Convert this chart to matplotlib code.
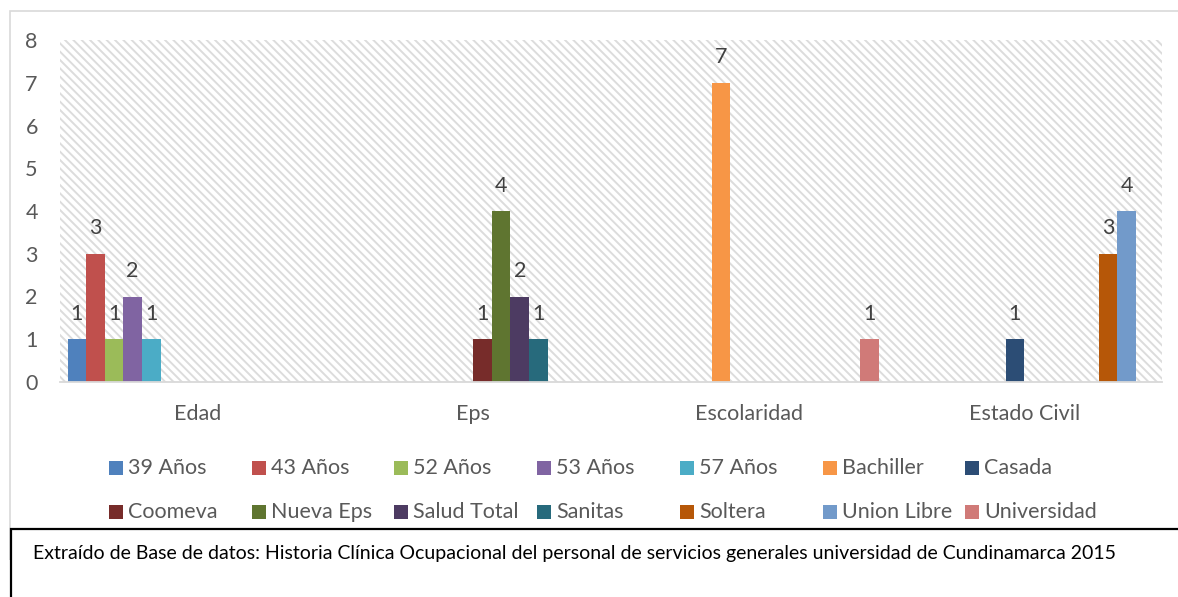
import matplotlib
matplotlib.use("Agg")
import matplotlib.pyplot as plt
from matplotlib.patches import Rectangle
import numpy as np

categories = ["Edad", "Eps", "Escolaridad", "Estado Civil"]
series_names = ["39 Años", "43 Años", "52 Años", "53 Años", "57 Años", "Bachiller", "Casada",
                "Coomeva", "Nueva Eps", "Salud Total", "Sanitas", "Soltera", "Union Libre", "Universidad"]
s39 = [1, 0, 0, 0]
s43 = [3, 0, 0, 0]
s52 = [1, 0, 0, 0]
s53 = [2, 0, 0, 0]
s57 = [1, 0, 0, 0]
bachiller = [0, 0, 7, 0]
casada = [0, 0, 0, 1]
coomeva = [0, 1, 0, 0]
nueva_eps = [0, 4, 0, 0]
salud_total = [0, 2, 0, 0]
sanitas = [0, 1, 0, 0]
soltera = [0, 0, 0, 3]
union_libre = [0, 0, 0, 4]
universidad = [0, 0, 1, 0]
series_values = [s39, s43, s52, s53, s57, bachiller, casada, coomeva, nueva_eps,
                 salud_total, sanitas, soltera, union_libre, universidad]
colors = ["#4F81BD", "#C0504D", "#9BBB59", "#8064A2", "#4BACC6", "#F79646", "#2C4D75",
          "#772C2A", "#5F7530", "#4D3B62", "#276A7C", "#B65708", "#729ACA", "#D07A78"]
y_ticks = [0, 1, 2, 3, 4, 5, 6, 7, 8]
caption = ("Extraído de Base de datos: Historia Clínica Ocupacional del personal de servicios "
           "generales universidad de Cundinamarca 2015")

W, H = 1178, 597
FS = 15.5
plt.rcParams['font.family'] = ['Lato', 'DejaVu Sans']
plt.rcParams['hatch.linewidth'] = 1.4
fig = plt.figure(figsize=(W / 100, H / 100), dpi=100)
fig.patch.set_facecolor("white")

def fx(px):
    return px / W

def fy(py):
    return 1 - py / H

ax = fig.add_axes([fx(60), fy(382), fx(1162) - fx(60), fy(40) - fy(382)])
ax.set_facecolor("white")
bg = Rectangle((0, 0), 1, 1, transform=ax.transAxes, facecolor="white",
               edgecolor="#dcdcdc", hatch="\\\\\\\\", lw=0, zorder=0)
ax.add_patch(bg)

n = len(series_names)
group_w = 0.945
bw = group_w / n
x = np.arange(len(categories))
for i, (name, vals, c) in enumerate(zip(series_names, series_values, colors)):
    offs = -group_w / 2 + (i + 0.5) * bw
    vals_arr = np.array(vals, dtype=float)
    bars = ax.bar(x + offs, vals_arr, width=bw, color=c, lw=0, zorder=2, label=name)
    labels = [f"{int(v)}" if v > 0 else "" for v in vals_arr]
    ax.bar_label(bars, labels=labels, padding=11, fontsize=FS, color="#404040")

ax.set_xlim(-0.5, len(categories) - 0.5)
ax.set_ylim(0, 8)
ax.set_yticks(y_ticks)
ax.set_xticks(x)
ax.set_xticklabels(categories)
ax.tick_params(axis="both", length=0, labelsize=FS, labelcolor="#595959")
ax.tick_params(axis="y", pad=16)
ax.tick_params(axis="x", pad=16)
for s in ["left", "right", "top"]:
    ax.spines[s].set_visible(False)
ax.spines["bottom"].set_color("#d9d9d9")
ax.spines["bottom"].set_linewidth(1.3)
ax.spines["bottom"].set_zorder(3)

# Legend (uniform Excel-style columns)
col_x0 = 109
col_dx = 142.7
row_y = [468, 512]
ncol = 7
for i, (name, c) in enumerate(zip(series_names, colors)):
    r, k = divmod(i, ncol)
    px = col_x0 + k * col_dx
    py = row_y[r]
    fig.patches.append(Rectangle((fx(px), fy(py + 7)), fx(14), 14 / H, transform=fig.transFigure,
                                 facecolor=c, lw=0))
    fig.text(fx(px + 19), fy(py), name, fontsize=FS, color="#595959", va="center", ha="left")

# Chart outer border
fig.patches.append(Rectangle((fx(9.5), fy(560)), fx(1200), (560 - 11) / H, transform=fig.transFigure,
                             facecolor="none", edgecolor="#d9d9d9", lw=1.2, zorder=0))
# Caption box
fig.patches.append(Rectangle((fx(10.5), fy(620)), fx(1200), (620 - 529) / H, transform=fig.transFigure,
                             facecolor="white", edgecolor="black", lw=1.6, zorder=1))
fig.text(fx(33), fy(554), caption, fontsize=14, color="black", va="center", ha="left", zorder=2)

fig.savefig("out.png", dpi=100)
